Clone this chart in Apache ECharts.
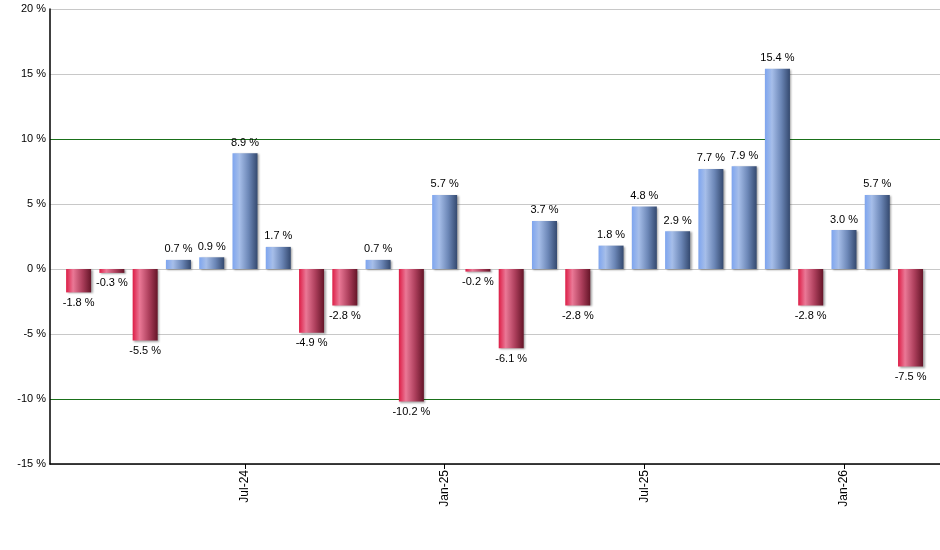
<!DOCTYPE html>
<html>
<head>
<meta charset="utf-8">
<script src="https://cdn.jsdelivr.net/npm/echarts@6/dist/echarts.min.js"></script>
<style>
html,body{margin:0;padding:0;background:#fff;}
#chart{width:940px;height:550px;}
</style>
</head>
<body>
<div id="chart"></div>
<script>
const months = ['Feb-24','Mar-24','Apr-24','May-24','Jun-24','Jul-24','Aug-24','Sep-24','Oct-24','Nov-24','Dec-24','Jan-25','Feb-25','Mar-25','Apr-25','May-25','Jun-25','Jul-25','Aug-25','Sep-25','Oct-25','Nov-25','Dec-25','Jan-26','Feb-26','Mar-26'];
const returns = [-1.8,-0.3,-5.5,0.7,0.9,8.9,1.7,-4.9,-2.8,0.7,-10.2,5.7,-0.2,-6.1,3.7,-2.8,1.8,4.8,2.9,7.7,7.9,15.4,-2.8,3.0,5.7,-7.5];
const tickIndices = [5,11,17,23];
const yTicks = [-15,-10,-5,0,5,10,15,20];

const blueGrad = new echarts.graphic.LinearGradient(0,0,1,0,[
  {offset:0,color:'#7ea5ef'},{offset:0.28,color:'#a6bee9'},{offset:0.65,color:'#6b86b6'},{offset:1,color:'#34496f'}
]);
const redGrad = new echarts.graphic.LinearGradient(0,0,1,0,[
  {offset:0,color:'#dd1d46'},{offset:0.28,color:'#ea7896'},{offset:0.65,color:'#ad3f5c'},{offset:1,color:'#651528'}
]);

const data = returns.map((v,i)=>({
  value:[i,v],
  itemStyle:{color: v>=0 ? blueGrad : redGrad},
  label:{position: v>=0 ? 'top' : 'bottom'}
}));

const green = '#1a701a';
const gray = '#c8c8c8';
const chart = echarts.init(document.getElementById('chart'));
chart.setOption({
  animation:false,
  grid:{left:50,right:0,top:9,bottom:86,containLabel:false},
  xAxis:{
    type:'value',
    min:-0.86, max:25.885,
    axisLine:{show:true,onZero:false,lineStyle:{color:'#000',width:1.5}},
    axisTick:{show:true,customValues:tickIndices,length:5,lineStyle:{color:'#000'}},
    axisLabel:{show:true,customValues:tickIndices,rotate:90,color:'#000',fontFamily:'Liberation Sans, Arial',fontSize:12,margin:6,
      formatter:v=>months[Math.round(v)]},
    splitLine:{show:false}
  },
  yAxis:{
    type:'value',
    min:-15,max:20,interval:5,
    axisLine:{show:true,onZero:false,lineStyle:{color:'#000',width:1.5}},
    axisTick:{show:false},
    axisLabel:{color:'#000',fontFamily:'Liberation Sans, Arial',fontSize:11,margin:4,formatter:v=>v+' %'},
    splitLine:{show:true,lineStyle:{color:[gray,green,gray,gray,gray,green,gray,gray],width:1}}
  },
  series:[{
    type:'bar',
    data:data,
    barWidth:25,
    itemStyle:{shadowColor:'rgba(0,0,0,0.35)',shadowBlur:2,shadowOffsetX:1.5,shadowOffsetY:1},
    label:{show:true,color:'#000',fontFamily:'Liberation Sans, Arial',fontSize:11,distance:5,
      formatter:p=>p.value[1].toFixed(1)+' %'}
  }]
});
</script>
</body>
</html>
